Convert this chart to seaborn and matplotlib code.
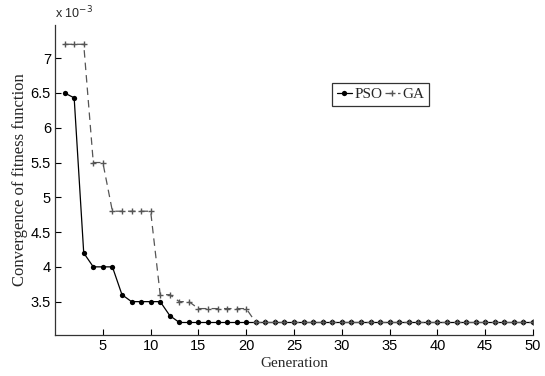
import numpy as np
import pandas as pd
import matplotlib
matplotlib.use("Agg")
import matplotlib.pyplot as plt
import seaborn as sns

generation = list(range(1, 51))
pso = [6.5, 6.43, 4.2, 4.0, 4.0, 4.0, 3.6, 3.5, 3.5, 3.5, 3.5, 3.3] + [3.2] * 38
ga = [7.2, 7.2, 7.2, 5.5, 5.5, 4.8, 4.8, 4.8, 4.8, 4.8, 3.6, 3.6, 3.5, 3.5,
      3.4, 3.4, 3.4, 3.4, 3.4, 3.4] + [3.2] * 30
x_ticks = [5, 10, 15, 20, 25, 30, 35, 40, 45, 50]
y_ticks = [3.5, 4, 4.5, 5, 5.5, 6, 6.5, 7]
y_ticklabels = ["3.5", "4", "4.5", "5", "5.5", "6", "6.5", "7"]

df = pd.DataFrame({
    "Generation": generation * 2,
    "value": pso + ga,
    "method": ["PSO"] * len(pso) + ["GA"] * len(ga),
})

sns.set_style("white")
plt.rcParams["font.family"] = ["Liberation Sans", "DejaVu Sans"]

fig = plt.figure(figsize=(5.45, 3.76), dpi=100)
ax = fig.add_axes([0.101, 0.109, 0.877, 0.825])

sns.lineplot(data=df[df.method == "PSO"], x="Generation", y="value", ax=ax,
             color="black", linewidth=0.9, marker="o", markersize=3.8,
             markeredgewidth=0, label="PSO")
sns.lineplot(data=df[df.method == "GA"], x="Generation", y="value", ax=ax,
             color="#555555", linewidth=0.9, linestyle=(0, (6, 4)), marker="+",
             markersize=4.5, markeredgewidth=1.0, markeredgecolor="#555555",
             label="GA")

ax.set_xlim(0, 50)
ax.set_ylim(3.02, 7.48)
ax.set_xticks(x_ticks)
ax.set_yticks(y_ticks)
ax.set_yticklabels(y_ticklabels)
ax.tick_params(bottom=True, left=True, direction="in", length=4, width=0.8,
               labelsize=10.5, colors="black", pad=3)
for s in ["top", "right"]:
    ax.spines[s].set_visible(False)
for s in ["left", "bottom"]:
    ax.spines[s].set_color("#333333")
    ax.spines[s].set_linewidth(0.9)

ax.set_xlabel("Generation", family=["Liberation Serif"], fontsize=11, labelpad=3)
ax.set_ylabel("Convergence of fitness function", family=["Liberation Serif"], fontsize=12, labelpad=2)
ax.text(0.0, 1.01, "x 10$^{-3}$", transform=ax.transAxes, fontsize=9,
        ha="left", va="bottom")

leg = ax.legend(loc="upper left", bbox_to_anchor=(0.58, 0.813), ncol=2,
                frameon=True, fancybox=False, handlelength=1.0, handletextpad=0.15,
                columnspacing=0.15, borderpad=0.3, borderaxespad=0,
                prop={"family": "Liberation Serif", "size": 11})
leg.get_frame().set_edgecolor("black")
leg.get_frame().set_linewidth(0.9)

fig.savefig("out.png", dpi=100)
